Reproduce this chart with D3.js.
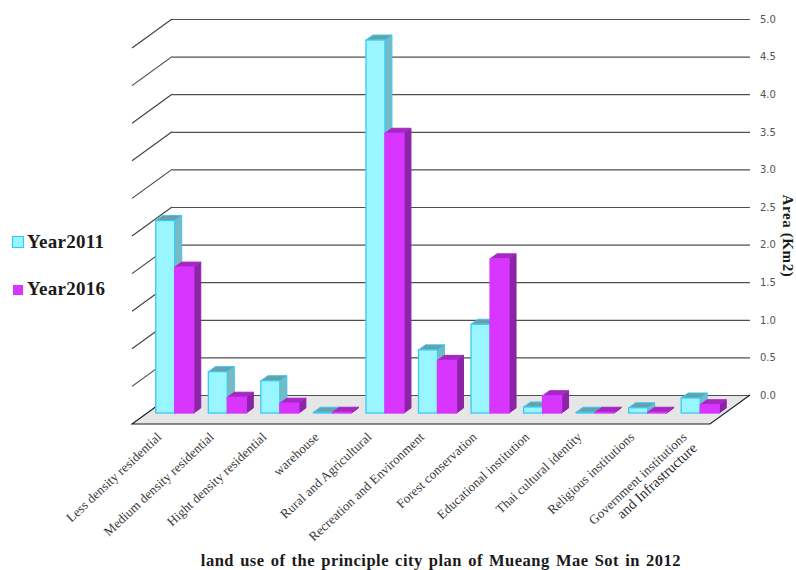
<!DOCTYPE html>
<html>
<head>
<meta charset="utf-8">
<script src="https://cdn.jsdelivr.net/npm/d3@7"></script>
<style>
  html, body { margin: 0; padding: 0; background: #fff; }
  svg { display: block; }
  .serif { font-family: "Liberation Serif", serif; }
</style>
</head>
<body>
<svg id="chart" width="796" height="570"></svg>
<script>
const categories = [
  "Less density residential", "Medium density residential", "Hight density residential",
  "warehouse", "Rural and Agricultural", "Recreation and Environment",
  "Forest conservation", "Educational institution", "Thai cultural identity",
  "Religious institutions", "Government institutions"
];
const year2011 = [2.56, 0.55, 0.43, 0.01, 4.96, 0.84, 1.18, 0.08, 0.01, 0.07, 0.2];
const year2016 = [1.94, 0.21, 0.13, 0.01, 3.72, 0.7, 2.05, 0.23, 0.01, 0.01, 0.11];
const yTicks = [0, 0.5, 1, 1.5, 2, 2.5, 3, 3.5, 4, 4.5, 5];
const seriesNames = ["Year2011", "Year2016"];
const palette = [
  { front: "#99f5ff", side: "#78b9c4", top: "#66a0a8", line: "#3cc8f4" },
  { front: "#d835ff", side: "#8c24a8", top: "#a528c2", line: "#d835ff" }
];

const svg = d3.select("#chart");

// Box projection: the wall sits at the back, the floor runs 40px left and 29px down from it.
const wallLeft = 172, wallRight = 750, wallTop = 19, wallBottom = 395;
const floorDx = 40, floorDy = 29;
const barDepthX = 7, barDepthY = 5;

const y = d3.scaleLinear().domain([0, 5]).range([wallBottom, wallTop]);
const yBar = d3.scaleLinear().domain([0, 5]).range([413, 37]);
const xBand = d3.scaleBand().domain(categories).range([148.5, 726.5]).paddingInner(0).paddingOuter(0);
const barWidth = 19;
const barInset = (xBand.bandwidth() - 2 * barWidth) / 2;

// Floor
svg.append("path")
  .attr("d", `M${wallLeft},${wallBottom}L${wallRight},${wallBottom}L${wallRight - floorDx},${wallBottom + floorDy}L${wallLeft - floorDx},${wallBottom + floorDy}Z`)
  .attr("fill", "#e6e6e6");

// Wall gridlines and value labels
const axis = d3.axisRight(y)
  .tickValues(yTicks)
  .tickSize(-(wallRight - wallLeft))
  .tickPadding(10)
  .tickFormat(d3.format(".1f"));
const axisG = svg.append("g").attr("transform", `translate(${wallRight},0)`).call(axis);
axisG.select(".domain").remove();
axisG.selectAll("line").attr("stroke", "#505050").attr("stroke-width", 1.2);
axisG.selectAll("text")
  .attr("font-family", "'DejaVu Sans', sans-serif")
  .attr("font-size", 10)
  .attr("fill", "#555");

// Side wall rungs running from the wall toward the viewer
svg.append("g").selectAll("line").data(yTicks.filter(d => d > 0)).join("line")
  .attr("x1", wallLeft).attr("y1", d => y(d))
  .attr("x2", wallLeft - floorDx).attr("y2", d => y(d) + floorDy)
  .attr("stroke", "#404040").attr("stroke-width", 1.1);

// Floor edges
svg.append("path")
  .attr("d", `M${wallLeft},${wallBottom}L${wallLeft - floorDx},${wallBottom + floorDy}L${wallRight - floorDx},${wallBottom + floorDy}L${wallRight},${wallBottom}`)
  .attr("fill", "none").attr("stroke", "#1a1a1a").attr("stroke-width", 1.1);

// Extruded bars; the 2011 box goes first so the 2016 box sits in front of its side face
function drawBar(g, x0, v, c) {
  const top = yBar(v), base = yBar(0), x1 = x0 + barWidth;
  const dx = barDepthX, dy = barDepthY;
  g.append("path").attr("d", `M${x1},${top}L${x1 + dx},${top - dy}L${x1 + dx},${base - dy}L${x1},${base}Z`)
    .attr("fill", c.side).attr("stroke", c === palette[0] ? c.line : c.side).attr("stroke-width", 1);
  g.append("path").attr("d", `M${x0},${top}L${x0 + dx},${top - dy}L${x1 + dx},${top - dy}L${x1},${top}Z`)
    .attr("fill", c.top).attr("stroke", c === palette[0] ? c.line : c.top).attr("stroke-width", 1);
  g.append("rect").attr("x", x0).attr("y", top).attr("width", barWidth).attr("height", base - top)
    .attr("fill", c.front).attr("stroke", c.line).attr("stroke-width", 1.3);
}

const barsG = svg.append("g");
categories.forEach((cat, i) => {
  const x0 = xBand(cat) + barInset;
  drawBar(barsG, x0, year2011[i], palette[0]);
  drawBar(barsG, x0 + barWidth, year2016[i], palette[1]);
});

// Rotated category labels
const labelG = svg.append("g").attr("class", "serif");
categories.forEach(cat => {
  const lx = xBand(cat) + xBand.bandwidth() / 2 - 12.5;
  labelG.append("text")
    .attr("transform", `translate(${lx},438) rotate(-43)`)
    .attr("text-anchor", "end")
    .attr("font-size", 13)
    .attr("letter-spacing", 0.1)
    .attr("fill", "#3a3a3a")
    .text(cat);
});
labelG.append("text")
  .attr("transform", `translate(698,449) rotate(-43)`)
  .attr("text-anchor", "end")
  .attr("font-size", 14.5)
  .attr("fill", "#2a2a2a")
  .text("and Infrastructure");

// Legend
const legend = svg.append("g").attr("class", "serif");
legend.append("rect").attr("x", 12.5).attr("y", 236.5).attr("width", 11).attr("height", 11)
  .attr("fill", palette[0].front).attr("stroke", palette[0].line).attr("stroke-width", 1.2);
legend.append("rect").attr("x", 13).attr("y", 285).attr("width", 10).attr("height", 10)
  .attr("fill", palette[1].front);
[248, 295].forEach((by, i) => {
  legend.append("text").attr("x", 27).attr("y", by)
    .attr("font-size", 19).attr("font-weight", "bold").attr("letter-spacing", 0.3).attr("fill", "#1a1a1a")
    .text(seriesNames[i]);
});

// Axis titles
svg.append("text").attr("class", "serif")
  .attr("transform", "translate(783,236) rotate(90)")
  .attr("text-anchor", "middle")
  .attr("font-size", 15).attr("font-weight", "bold").attr("letter-spacing", 0.6).attr("fill", "#1a1a1a")
  .text("Area (Km2)");
svg.append("text").attr("class", "serif")
  .attr("x", 441).attr("y", 566)
  .attr("text-anchor", "middle")
  .attr("font-size", 16.5).attr("font-weight", "bold").attr("fill", "#1a1a1a")
  .attr("letter-spacing", 0.5).attr("word-spacing", 1.5)
  .text("land use of the principle city plan of Mueang Mae Sot in 2012");
</script>
</body>
</html>
